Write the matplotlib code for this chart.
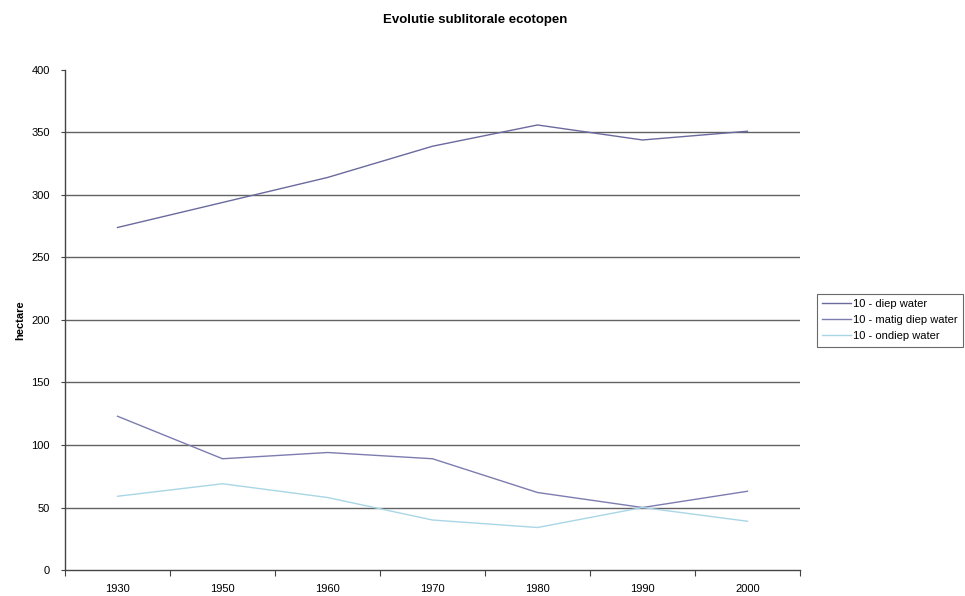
import matplotlib
matplotlib.use("Agg")
import matplotlib.pyplot as plt

years = ["1930", "1950", "1960", "1970", "1980", "1990", "2000"]
diep = [274, 294, 314, 339, 356, 344, 351]
matig_diep = [123, 89, 94, 89, 62, 50, 63]
ondiep = [59, 69, 58, 40, 34, 50, 39]
series_names = ["10 - diep water", "10 - matig diep water", "10 - ondiep water"]
yticks = [0, 50, 100, 150, 200, 250, 300, 350, 400]

plt.rcParams['font.family'] = ['Liberation Sans', 'DejaVu Sans']

fig = plt.figure(figsize=(9.65, 5.96), dpi=100)
ax = fig.add_axes([0.0674, 0.0436, 0.829 - 0.0674, 0.8826 - 0.0436])

x = list(range(len(years)))
ax.plot(x, diep, color="#6a6a9e", lw=1.0, label=series_names[0])
ax.plot(x, matig_diep, color="#7c7cb0", lw=1.0, label=series_names[1])
ax.plot(x, ondiep, color="#a9d6e6", lw=1.0, label=series_names[2])

ax.set_xlim(-0.5, len(years) - 0.5)
ax.set_ylim(0, 400)
ax.set_yticks(yticks)
ax.set_yticklabels([str(v) for v in yticks], fontsize=8)
for v in yticks[1:-1]:
    ax.axhline(v, color="#626262", lw=1.0, zorder=0)

ax.set_xticks([i - 0.5 for i in range(len(years) + 1)])
ax.set_xticklabels([])
ax.set_xticks(x, minor=True)
ax.set_xticklabels(years, minor=True, fontsize=8)
ax.tick_params(axis='x', which='minor', length=0, pad=10)
ax.tick_params(axis='x', which='major', length=4, direction='out', color="#444444")
ax.tick_params(axis='y', length=3, direction='out', color="#444444", pad=8)

for s in ["top", "right"]:
    ax.spines[s].set_visible(False)
for s in ["left", "bottom"]:
    ax.spines[s].set_color("#444444")
    ax.spines[s].set_linewidth(1.0)

ax.set_ylabel("hectare", fontsize=8, fontweight="bold", labelpad=4)

fig.text(475 / 965, 1 - 20 / 596, "Evolutie sublitorale ecotopen",
         ha="center", va="center", fontsize=9.5, fontweight="bold")

leg = fig.legend(loc="upper left", bbox_to_anchor=(811 / 965, 1 - 288 / 596),
                 fontsize=8, frameon=True, fancybox=False, handlelength=2.6,
                 handletextpad=0.2, borderpad=0.5, labelspacing=0.55,
                 edgecolor="#444444")
leg.get_frame().set_linewidth(0.8)

fig.savefig("out.png", dpi=100)
